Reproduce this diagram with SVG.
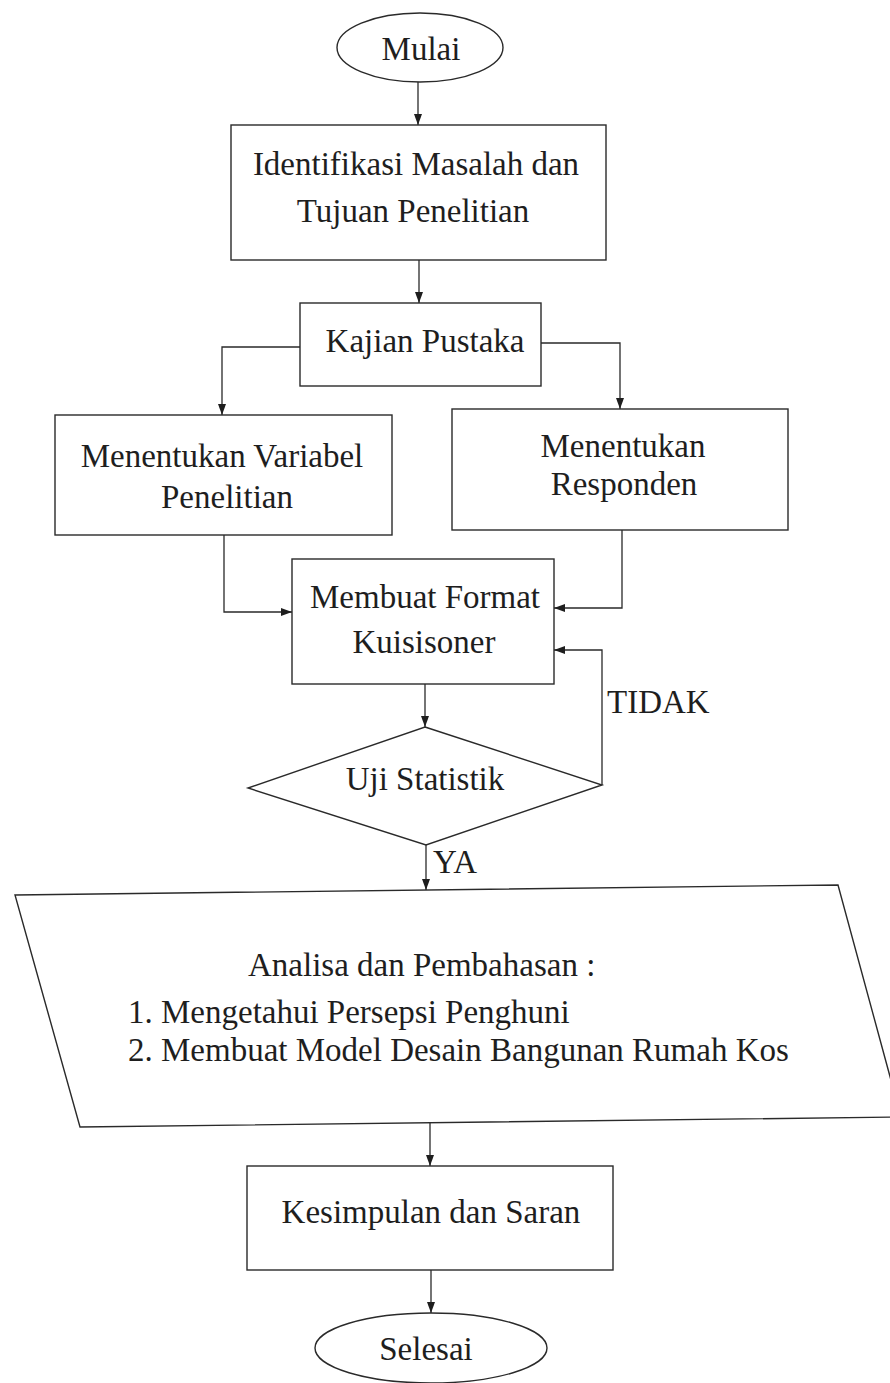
<svg xmlns="http://www.w3.org/2000/svg" width="890" height="1383" viewBox="0 0 890 1383">
<style>
.shape{fill:none;stroke:#2a2a2a;stroke-width:1.4}
.conn{fill:none;stroke:#2a2a2a;stroke-width:1.3}
.t{font-family:"Liberation Serif","Times New Roman",serif;font-size:33px;fill:#1e1e1e}
.m{text-anchor:middle}
</style>
<defs>
<marker id="arr" markerUnits="userSpaceOnUse" markerWidth="12" markerHeight="9" refX="11" refY="4" orient="auto">
<path d="M0,0 L11,4 L0,8 z" fill="#1e1e1e"/>
</marker>
</defs>
<rect width="890" height="1383" fill="#ffffff"/>
<g id="connectors">
<path class="conn" d="M418,82 L418,125" marker-end="url(#arr)"/>
<path class="conn" d="M419,260 L419,303" marker-end="url(#arr)"/>
<path class="conn" d="M300,347 L222,347 L222,415" marker-end="url(#arr)"/>
<path class="conn" d="M541,343 L620,343 L620,409" marker-end="url(#arr)"/>
<path class="conn" d="M224,535 L224,612 L292,612" marker-end="url(#arr)"/>
<path class="conn" d="M622,530 L622,608 L554,608" marker-end="url(#arr)"/>
<path class="conn" d="M425,684 L425,727" marker-end="url(#arr)"/>
<path class="conn" d="M602,785 L602,650 L554,650" marker-end="url(#arr)"/>
<path class="conn" d="M426,845 L426,890" marker-end="url(#arr)"/>
<path class="conn" d="M430,1123 L430,1166" marker-end="url(#arr)"/>
<path class="conn" d="M431,1270 L431,1313" marker-end="url(#arr)"/>
</g>
<g id="mulai">
<ellipse class="shape" cx="420" cy="47.5" rx="83" ry="34.5"/>
<text class="t m" x="421" y="60">Mulai</text>
</g>
<g id="identifikasi">
<rect class="shape" x="231" y="125" width="375" height="135"/>
<text class="t m" x="416" y="175">Identifikasi Masalah dan</text>
<text class="t m" x="413" y="222">Tujuan Penelitian</text>
</g>
<g id="kajian">
<rect class="shape" x="300" y="303" width="241" height="83"/>
<text class="t m" x="425" y="352">Kajian Pustaka</text>
</g>
<g id="variabel">
<rect class="shape" x="55" y="415" width="337" height="120"/>
<text class="t m" x="222" y="467">Menentukan Variabel</text>
<text class="t m" x="227" y="508">Penelitian</text>
</g>
<g id="responden">
<rect class="shape" x="452" y="409" width="336" height="121"/>
<text class="t m" x="623" y="457">Menentukan</text>
<text class="t m" x="624" y="495">Responden</text>
</g>
<g id="kuisioner">
<rect class="shape" x="292" y="559" width="262" height="125"/>
<text class="t m" x="425" y="608">Membuat Format</text>
<text class="t m" x="424" y="653">Kuisisoner</text>
</g>
<g id="uji">
<polygon class="shape" points="425,727 602,785 426,845 248,788"/>
<text class="t m" x="425" y="790">Uji Statistik</text>
<text class="t" x="607" y="713">TIDAK</text>
<text class="t" x="433" y="873">YA</text>
</g>
<g id="analisa">
<polygon class="shape" points="15,895 838,885 901,1117 80,1127"/>
<text class="t" x="248" y="976">Analisa dan Pembahasan :</text>
<text class="t" x="128" y="1023">1. Mengetahui Persepsi Penghuni</text>
<text class="t" x="128" y="1061">2. Membuat Model Desain Bangunan Rumah Kos</text>
</g>
<g id="kesimpulan">
<rect class="shape" x="247" y="1166" width="366" height="104"/>
<text class="t m" x="431" y="1223">Kesimpulan dan Saran</text>
</g>
<g id="selesai">
<ellipse class="shape" cx="431" cy="1348" rx="116" ry="35"/>
<text class="t m" x="426" y="1360">Selesai</text>
</g>
</svg>
